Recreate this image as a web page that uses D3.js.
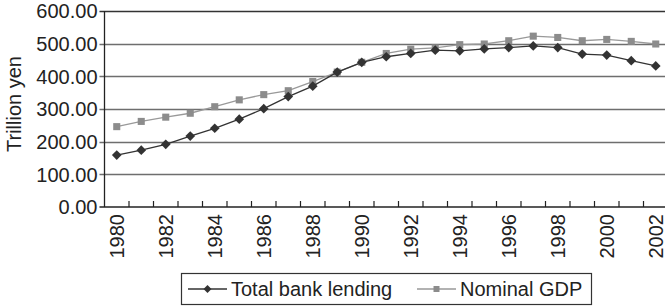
<!DOCTYPE html>
<html>
<head>
<meta charset="utf-8">
<script src="https://cdn.jsdelivr.net/npm/d3@7"></script>
<style>
  body { margin: 0; background: #fff; }
  svg { display: block; font-family: "Liberation Sans", Arial, sans-serif; }
</style>
</head>
<body>
<div id="chart"></div>
<script>
const years = d3.range(1980, 2003);
const bankLending = [159, 174, 192, 217, 241, 269, 301, 338, 370, 413, 443, 460, 470, 480, 478, 484, 488, 493, 488, 468, 465, 448, 432];
const nominalGDP = [246, 262, 275, 287, 307, 328, 344, 356, 384, 413, 443, 470, 483, 487, 497, 499, 509, 523, 519, 509, 513, 507, 499];
const yTicks = [0, 100, 200, 300, 400, 500, 600];

const width = 665, height = 307;
const plotLeft = 104.5, plotRight = 668, plotTop = 11, plotBottom = 207;
const fontSize = "20px";

const svg = d3.select("#chart").append("svg")
    .attr("width", width)
    .attr("height", height);

const x = d3.scaleBand().domain(years).range([plotLeft, plotRight]).padding(0);
const y = d3.scaleLinear().domain([0, 600]).range([plotBottom, plotTop]);
const cx = d => x(d) + x.bandwidth() / 2;

// gridlines
svg.selectAll(".grid")
    .data(yTicks.filter(d => d > 0))
    .enter().append("line")
    .attr("x1", plotLeft - 5)
    .attr("x2", width)
    .attr("y1", d => Math.round(y(d)) + 0.5)
    .attr("y2", d => Math.round(y(d)) + 0.5)
    .attr("stroke", d => d === 600 ? "#333" : "#6e6e6e")
    .attr("stroke-width", 1.3);

// y tick labels
svg.selectAll(".ylab")
    .data(yTicks)
    .enter().append("text")
    .attr("x", plotLeft - 7)
    .attr("y", d => y(d))
    .attr("dy", "0.36em")
    .attr("text-anchor", "end")
    .attr("font-size", fontSize)
    .attr("fill", "#222")
    .text(d => d.toFixed(2));

// axes
svg.append("line")
    .attr("x1", plotLeft).attr("x2", plotLeft)
    .attr("y1", plotTop).attr("y2", plotBottom)
    .attr("stroke", "#222").attr("stroke-width", 1.3);
svg.append("line")
    .attr("x1", plotLeft - 5).attr("x2", width)
    .attr("y1", plotBottom).attr("y2", plotBottom)
    .attr("stroke", "#222").attr("stroke-width", 1.3);

// x ticks at category boundaries
svg.selectAll(".xtick")
    .data(years.slice(1))
    .enter().append("line")
    .attr("x1", d => x(d)).attr("x2", d => x(d))
    .attr("y1", plotBottom - 6).attr("y2", plotBottom)
    .attr("stroke", "#222").attr("stroke-width", 1.2);

// x labels every other year
svg.selectAll(".xlab")
    .data(years.filter(d => d % 2 === 0))
    .enter().append("text")
    .attr("transform", d => `translate(${cx(d)},${plotBottom + 7}) rotate(-90)`)
    .attr("dy", "0.36em")
    .attr("text-anchor", "end")
    .attr("font-size", fontSize)
    .attr("fill", "#222")
    .text(d => d);

// y axis title
svg.append("text")
    .attr("transform", `translate(14,104) rotate(-90)`)
    .attr("dy", "0.36em")
    .attr("text-anchor", "middle")
    .attr("font-size", fontSize)
    .attr("fill", "#222")
    .text("Trillion yen");

const line = d3.line().x((d, i) => cx(years[i])).y(d => y(d));
const diamond = d3.symbol().type(d3.symbolDiamond2).size(60);
const square = d3.symbol().type(d3.symbolSquare).size(50);

// GDP series
svg.append("path")
    .attr("d", line(nominalGDP))
    .attr("fill", "none")
    .attr("stroke", "#999")
    .attr("stroke-width", 1.3);
svg.selectAll(".gdp")
    .data(nominalGDP)
    .enter().append("path")
    .attr("transform", (d, i) => `translate(${cx(years[i])},${y(d)})`)
    .attr("d", square())
    .attr("fill", "#8c8c8c");

// lending series
svg.append("path")
    .attr("d", line(bankLending))
    .attr("fill", "none")
    .attr("stroke", "#333")
    .attr("stroke-width", 1.3);
svg.selectAll(".lend")
    .data(bankLending)
    .enter().append("path")
    .attr("transform", (d, i) => `translate(${cx(years[i])},${y(d)})`)
    .attr("d", diamond())
    .attr("fill", "#333");

// legend
const lg = svg.append("g");
lg.append("rect")
    .attr("x", 181.5).attr("y", 273.5)
    .attr("width", 410).attr("height", 31)
    .attr("fill", "#fff").attr("stroke", "#333").attr("stroke-width", 1.2);

const legendItems = [
    { name: "Total bank lending", color: "#333", stroke: "#333", sym: d3.symbol().type(d3.symbolDiamond2).size(40), x0: 188 },
    { name: "Nominal GDP", color: "#8c8c8c", stroke: "#999", sym: d3.symbol().type(d3.symbolSquare).size(36), x0: 417 }
];
legendItems.forEach(it => {
    lg.append("line")
        .attr("x1", it.x0).attr("x2", it.x0 + 39)
        .attr("y1", 289).attr("y2", 289)
        .attr("stroke", it.stroke).attr("stroke-width", 1.3);
    lg.append("path")
        .attr("transform", `translate(${it.x0 + 19.5},289)`)
        .attr("d", it.sym())
        .attr("fill", it.color);
    lg.append("text")
        .attr("x", it.x0 + 43)
        .attr("y", 289)
        .attr("dy", "0.36em")
        .attr("font-size", fontSize)
        .attr("fill", "#222")
        .text(it.name);
});
</script>
</body>
</html>
